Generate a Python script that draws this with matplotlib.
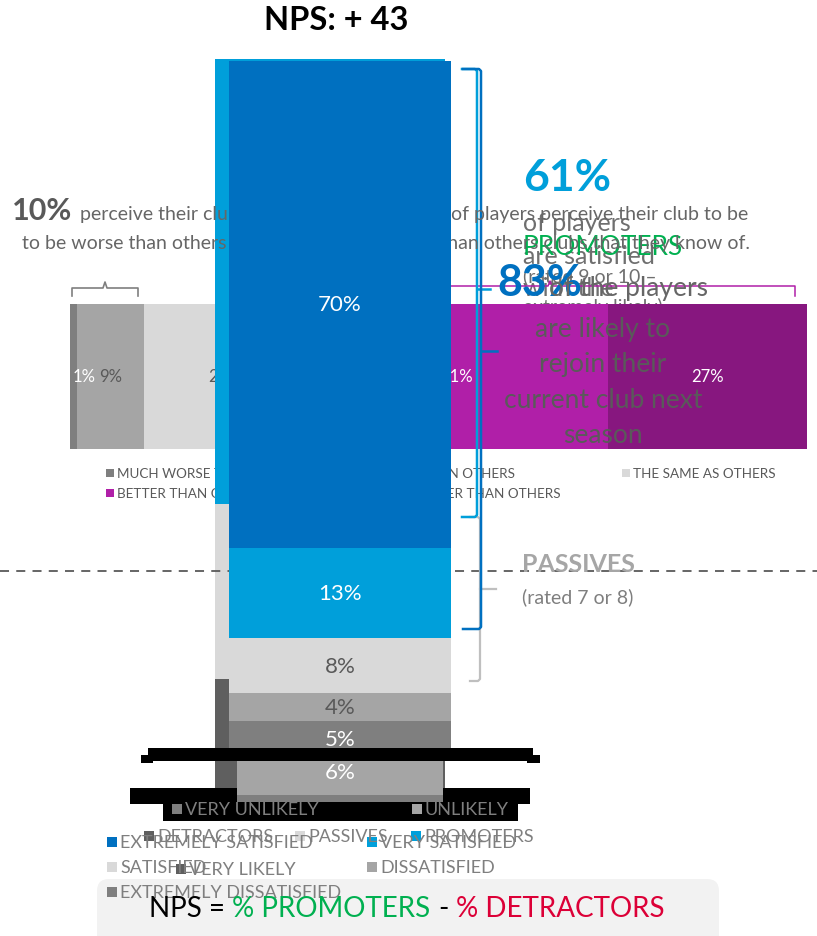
import matplotlib
matplotlib.use('Agg')
import matplotlib.pyplot as plt
from matplotlib.patches import Rectangle, FancyBboxPatch
from matplotlib import font_manager

# ---------------- data ----------------
perception_labels = ['MUCH WORSE THAN OTHERS', 'WORSE THAN OTHERS', 'THE SAME AS OTHERS',
                     'BETTER THAN OTHERS', 'MUCH BETTER THAN OTHERS']
perception_values = [1, 9, 22, 41, 27]

satisfaction_labels = ['EXTREMELY SATISFIED', 'VERY SATISFIED', 'SATISFIED',
                       'DISSATISFIED', 'EXTREMELY DISSATISFIED']
satisfaction_values = [70, 13, 8, 4, 5]

nps_labels = ['PROMOTERS', 'PASSIVES', 'DETRACTORS']
nps_values = [61, 24, 15]
nps_score = 43

likelihood_labels = ['VERY LIKELY', 'LIKELY', 'UNSURE', 'UNLIKELY', 'VERY UNLIKELY']
likelihood_values = [57, 26, 10, 6, 1]

worse_share = 10
better_share = 68
promoter_share = 61
satisfied_share = 83

# ---------------- style ----------------
W, H = 817, 937


def has_font(name):
    try:
        font_manager.findfont(font_manager.FontProperties(family=name), fallback_to_default=False)
        return True
    except Exception:
        return False


BODY = 'Lato' if has_font('Lato') else 'DejaVu Sans'
NARROW = 'Liberation Sans Narrow' if has_font('Liberation Sans Narrow') else BODY

BLUE = '#0070C0'
LBLUE = '#009FDA'
LGRAY = '#D9D9D9'
MGRAY = '#A5A5A5'
DGRAY = '#7F7F7F'
XGRAY = '#5F5F5F'
MAG = '#B01FA8'
DMAG = '#87177F'
GREEN = '#00B050'
RED = '#DC0037'
TXT = '#595959'

perception_colors = [DGRAY, MGRAY, LGRAY, MAG, DMAG]
perception_label_colors = ['white', TXT, TXT, 'white', 'white']
satisfaction_colors = [BLUE, LBLUE, LGRAY, MGRAY, DGRAY]
satisfaction_label_colors = ['white', 'white', TXT, TXT, 'white']
nps_colors = [LBLUE, LGRAY, XGRAY]
likelihood_colors = [XGRAY, '#8C8C8C', LGRAY, MGRAY, DGRAY]

fig = plt.figure(figsize=(W / 100, H / 100), dpi=100)
fig.patch.set_facecolor('white')
renderer = fig.canvas.get_renderer()


def pix_axes(x0, y0, x1, y1, z):
    ax = fig.add_axes([x0 / W, 1 - y1 / H, (x1 - x0) / W, (y1 - y0) / H])
    ax.set_zorder(z)
    ax.set_axis_off()
    ax.patch.set_alpha(0)
    return ax


def overlay(z):
    ax = pix_axes(0, 0, W, H, z)
    ax.set_xlim(0, W)
    ax.set_ylim(H, 0)
    return ax


def pieces(ax, x, y, parts, ha='left', va='baseline'):
    """parts: list of (text, props, gap_px_after)"""
    objs, widths = [], []
    for s, kw, gap in parts:
        t = ax.text(0, y, s, ha='left', va=va, **kw)
        widths.append(t.get_window_extent(renderer).width + gap)
        objs.append(t)
    total = sum(widths)
    cur = x if ha == 'left' else (x - total / 2 if ha == 'center' else x - total)
    for t, w in zip(objs, widths):
        t.set_x(cur)
        cur += w


def legend_item(ax, x, y, color, label, fs, tcolor, sq=9, family=None):
    ax.add_patch(Rectangle((x, y - sq / 2), sq, sq, facecolor=color, edgecolor='none'))
    ax.text(x + sq + 3, y, label, ha='left', va='center', fontsize=fs, color=tcolor,
            family=family or NARROW)


def vstack(ax, values, colors, label_colors, fs, min_label=3):
    bottom = 0
    for v, c, lc in zip(values, colors, label_colors):
        ax.bar(0, v, bottom=bottom, width=1, color=c, edgecolor='none')
        if lc is not None and v >= min_label:
            ax.text(0, bottom + v / 2, f'{v}%', ha='center', va='center', color=lc,
                    fontsize=fs, family=BODY)
        bottom += v
    ax.set_xlim(-0.5, 0.5)
    ax.set_ylim(sum(values), 0)


# ---------------- lowest layer: promoter text block, perception legend ----------------
ax_low = overlay(0.5)
ax_low.text(523, 191, f'{promoter_share}%', fontsize=32, fontweight='bold', color=LBLUE,
            family=BODY, va='baseline')
ax_low.text(523, 231, 'of players', fontsize=18, color='#6F6F6F', family=BODY, va='baseline')
ax_low.text(523, 264, 'are satisfied', fontsize=18, color='#6F6F6F', family=BODY, va='baseline')
ax_low.text(523, 296, 'with the', fontsize=18, color='#6F6F6F', family=BODY, va='baseline')
ax_low.text(523, 255, 'PROMOTERS', fontsize=19, color=GREEN, family=BODY, va='baseline')
ax_low.text(523, 282, '(rated 9 or 10 \u2013', fontsize=14, color='#6F6F6F', family=BODY, va='baseline')
ax_low.text(523, 313, 'extremely likely)', fontsize=14, color='#6F6F6F', family=BODY, va='baseline')

perc_leg_pos = [(106, 474), (358, 474), (622, 474), (106, 494), (358, 494)]
for (lx, ly), lab, col in zip(perc_leg_pos, perception_labels, perception_colors):
    legend_item(ax_low, lx, ly, col, lab, 9.7, TXT, sq=8)

# ---------------- perception horizontal stacked bar ----------------
axp = pix_axes(70, 305, 807, 450, 1)
left = 0
for v, c, lc in zip(perception_values, perception_colors, perception_label_colors):
    axp.barh(0, v, left=left, height=1, color=c, edgecolor='none')
    if v >= 3:
        axp.text(left + v / 2, 0, f'{v}%', ha='center', va='center', color=lc, fontsize=12, family=BODY)
    else:
        axp.text(left + 0.35, 0, f'{v}%', ha='left', va='center', color=lc, fontsize=12, family=BODY)
    left += v
axp.set_xlim(0, sum(perception_values))
axp.set_ylim(-0.5, 0.5)

# ---------------- NPS bar (behind) ----------------
axn = pix_axes(215, 60, 445, 789, 2)
vstack(axn, nps_values, nps_colors, [None] * 3, 14)

# ---------------- annotations under main bar ----------------
ax_u = overlay(3)
# left perception text
pieces(ax_u, 12, 220, [(f'{worse_share}%', dict(fontsize=22, fontweight='bold', color=TXT, family=BODY), 8),
                       ('perceive their club', dict(fontsize=14, color='#666666', family=BODY), 0)])
ax_u.text(22, 249, 'to be worse than others', fontsize=14, color='#666666', family=BODY, va='baseline')
# right perception text
pieces(ax_u, 748, 220, [(f'{better_share}%', dict(fontsize=22, fontweight='bold', color=TXT, family=BODY), 8),
                        ('of players perceive their club to be', dict(fontsize=14, color='#666666', family=BODY), 0)],
       ha='right')
ax_u.text(750, 249, 'better than others clubs that they know of.', fontsize=14, color='#666666',
          family=BODY, va='baseline', ha='right')

# horizontal brackets
ax_u.plot([72, 72, 103, 105, 107, 138, 138], [297, 289, 289, 283, 289, 289, 297], color=DGRAY, lw=1.2)
ax_u.plot([305, 305, 548, 550, 552, 795, 795], [297, 287, 287, 282, 287, 287, 297], color=MAG, lw=1.1)

# dashed separator
ax_u.plot([0, W], [572, 572], color=TXT, lw=1.3, dashes=(5, 4))

# 83% block
ax_u.text(497, 296, f'{satisfied_share}%', fontsize=31, fontweight='bold', color=BLUE,
          family=BODY, va='baseline')
ax_u.text(708, 296, 'of the players', fontsize=19, color='#666666', family=BODY,
          va='baseline', ha='right')
for i, line in enumerate(['are likely to', 'rejoin their', 'current club next', 'season']):
    ax_u.text(603, 337 + i * 35.5, line, fontsize=19, color='#5A5A5A', family=BODY,
              ha='center', va='baseline')


# vertical brackets
def vbracket(x, y0, y1, ymid, hook, tick, color, lw):
    ax_u.plot([x - hook, x - 2, x, x, x - 2, x - hook], [y0, y0, y0 + 2, y1 - 2, y1, y1],
              color=color, lw=lw, solid_joinstyle='round')
    ax_u.plot([x, x + tick], [ymid, ymid], color=color, lw=lw)


vbracket(480, 518, 682, 590, 10, 16, '#BFBFBF', 1.6)
vbracket(477, 70, 518, 290, 15, 13, LBLUE, 1.8)
vbracket(481, 70, 630, 352, 18, 16, BLUE, 1.8)

ax_u.text(522, 572, 'PASSIVES', fontsize=18, fontweight='bold', color='#A6A6A6', family=BODY, va='baseline')
ax_u.text(522, 603, '(rated 7 or 8)', fontsize=14, color=DGRAY, family=BODY, va='baseline')

# black likelihood legend box
ax_u.add_patch(Rectangle((130, 789), 400, 16, facecolor='black', edgecolor='none'))
ax_u.add_patch(Rectangle((163, 805), 355, 17, facecolor='black', edgecolor='none'))
legend_item(ax_u, 172, 810, DGRAY, likelihood_labels[4], 13, DGRAY, sq=10)
legend_item(ax_u, 412, 810, MGRAY, likelihood_labels[3], 13, DGRAY, sq=10)

# ---------------- likelihood bar ----------------
axl = pix_axes(237, 62, 443, 803, 3.5)
vstack(axl, likelihood_values, likelihood_colors, ['white'] * 5, 16)

# ---------------- main satisfaction bar ----------------
axm = pix_axes(229, 62, 451, 757, 4)
vstack(axm, satisfaction_values, satisfaction_colors, satisfaction_label_colors, 16)

# ---------------- top layer ----------------
ax_t = overlay(5)
ax_t.add_patch(Rectangle((148, 749), 385, 13, facecolor='black', edgecolor='none'))
ax_t.add_patch(Rectangle((141, 756), 12, 8, facecolor='black', edgecolor='none'))
ax_t.add_patch(Rectangle((527, 756), 13, 8, facecolor='black', edgecolor='none'))

ax_t.add_patch(FancyBboxPatch((97, 880), 622, 70, boxstyle='round,pad=0,rounding_size=12',
                              facecolor='#F2F2F2', edgecolor='none'))

sat_leg_pos = [(107, 843), (367, 843), (107, 868), (367, 868), (107, 893)]
for (lx, ly), lab, col in zip(sat_leg_pos, satisfaction_labels, satisfaction_colors):
    legend_item(ax_t, lx, ly, col, lab, 13, DGRAY, sq=10)

nps_leg_pos = [(411, 837), (295, 837), (144, 837)]
for (lx, ly), lab, col in zip(nps_leg_pos, nps_labels, nps_colors):
    legend_item(ax_t, lx, ly, col, lab, 13, DGRAY, sq=10)

legend_item(ax_t, 176, 870, XGRAY, likelihood_labels[0], 13, DGRAY, sq=10)

pieces(ax_t, 407, 917, [('NPS = ', dict(fontsize=20, color='black', family=BODY), 0),
                        ('% PROMOTERS', dict(fontsize=20, color=GREEN, family=BODY), 8),
                        ('- ', dict(fontsize=20, color='black', family=BODY), 0),
                        ('% DETRACTORS', dict(fontsize=20, color=RED, family=BODY), 0)], ha='center')

ax_t.text(336, 30, f'NPS: + {nps_score}', fontsize=23.5, fontweight='bold', color='black',
          family=BODY, ha='center', va='baseline')

fig.savefig('out.png', dpi=100, facecolor='white')
